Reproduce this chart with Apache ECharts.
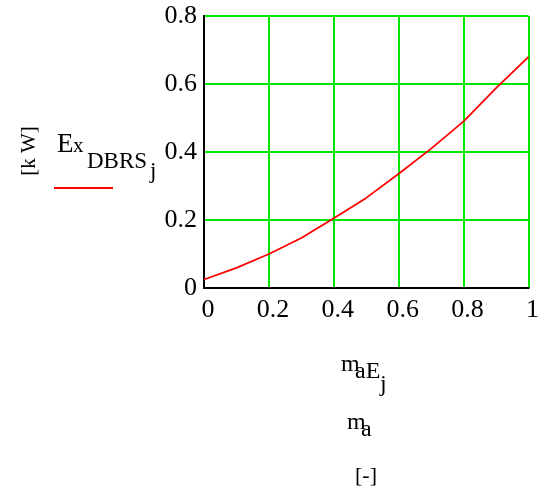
<!DOCTYPE html>
<html>
<head>
<meta charset="utf-8">
<script src="https://cdn.jsdelivr.net/npm/echarts@6/dist/echarts.min.js"></script>
<style>
  html, body { margin: 0; padding: 0; background: #fff; }
  #chart { width: 542px; height: 488px; }
</style>
</head>
<body>
<div id="chart"></div>
<script>
// Mass fraction m_a and the exergy of the DBRS stream [kW]
const massFraction = [0, 0.1, 0.2, 0.3, 0.4, 0.5, 0.6, 0.7, 0.8, 0.9, 1.0];
const exergyDBRS = [0.025, 0.059, 0.100, 0.147, 0.205, 0.265, 0.336, 0.410, 0.490, 0.588, 0.680];
const xTicks = [0, 0.2, 0.4, 0.6, 0.8, 1];
const yTicks = [0, 0.2, 0.4, 0.6, 0.8];

const serif = 'Liberation Serif';
const fmt = v => (v === 0 ? '0' : v === 1 ? '1' : String(Number(v.toFixed(1))));

function label(text, left, top, size, extra) {
  return Object.assign({ type: 'text', left: left, top: top,
    style: { text: text, fontFamily: serif, fontSize: size, fill: '#000' } }, extra || {});
}

const frameAxis = { show: true, axisLine: { show: true, lineStyle: { color: '#000', width: 2 } },
  axisTick: { show: false }, axisLabel: { show: false }, splitLine: { show: false } };

const chart = echarts.init(document.getElementById('chart'));
chart.setOption({
  animation: false,
  grid: { left: 204, top: 16, width: 325, height: 272 },
  xAxis: [{
    type: 'value', min: 0, max: 1, interval: 0.2,
    axisLine: { show: true, lineStyle: { color: '#000', width: 2 } },
    axisTick: { show: false },
    splitLine: { show: true, lineStyle: { color: '#00e600', width: 2 } },
    axisLabel: { color: '#000', fontFamily: serif, fontSize: 26, margin: 9,
                 padding: [0, 0, 0, 8],
                 formatter: v => (xTicks.some(t => Math.abs(t - v) < 1e-9) ? fmt(v) : '') }
  }, Object.assign({ type: 'value', position: 'top', min: 0, max: 1 }, frameAxis)],
  yAxis: [{
    type: 'value', min: 0, max: 0.8, interval: 0.2,
    axisLine: { show: true, lineStyle: { color: '#000', width: 2 } },
    axisTick: { show: false },
    splitLine: { show: true, lineStyle: { color: '#00e600', width: 2 } },
    axisLabel: { color: '#000', fontFamily: serif, fontSize: 26, margin: 7,
                 padding: [8, 0, 0, 0],
                 formatter: v => (yTicks.some(t => Math.abs(t - v) < 1e-9) ? fmt(v) : '') }
  }, Object.assign({ type: 'value', position: 'right', min: 0, max: 0.8 }, frameAxis)],
  series: [{
    type: 'line',
    data: massFraction.map((x, i) => [x, exergyDBRS[i]]),
    showSymbol: false,
    lineStyle: { color: '#ff0000', width: 1.8 },
    z: 5
  }],
  graphic: [
    // legend entry: Ex_DBRS_j with its red line sample
    label('E', 57, 131, 27),
    label('x', 73, 136, 21),
    label('DBRS', 87, 150, 23),
    label('j', 150, 160, 23),
    { type: 'line', shape: { x1: 54, y1: 188, x2: 113, y2: 188 },
      style: { stroke: '#ff0000', lineWidth: 2 } },
    { type: 'text', x: 29, y: 151, rotation: Math.PI / 2,
      style: { text: '[k W]', fontFamily: serif, fontSize: 21, fill: '#000',
               align: 'center', verticalAlign: 'middle' } },
    // x-axis titles
    label('m', 341, 353, 24),
    label('aE', 355, 360, 24),
    label('j', 380, 373, 24),
    label('m', 347, 411, 24),
    label('a', 361, 418, 24),
    label('[-]', 355, 465, 22)
  ]
});
</script>
</body>
</html>
